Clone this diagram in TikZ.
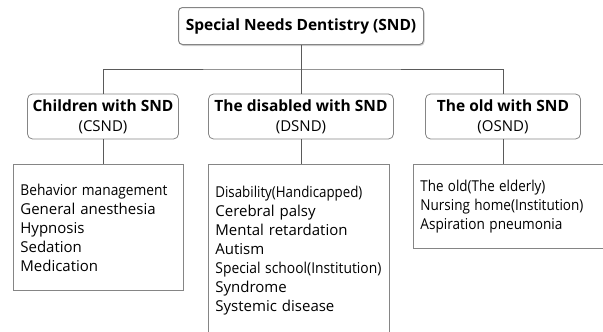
\documentclass[tikz,border=0pt]{standalone}
\usepackage{fontspec}
\setmainfont{Open Sans}
\usetikzlibrary{positioning, shadows}
\definecolor{boxline}{HTML}{858585}
\definecolor{linkline}{HTML}{5A5A5A}
\tikzstyle{root}=[draw=boxline,rounded corners=4pt,fill=white,line width=1pt,minimum width=245pt,minimum height=37pt,drop shadow={opacity=.35,shadow xshift=1pt,shadow yshift=-1.5pt},font=\fontsize{15.5}{18}\selectfont\bfseries]
\tikzstyle{group}=[draw=boxline,rounded corners=5pt,line width=.8pt,minimum height=45pt,align=center,font=\fontsize{15}{20}\selectfont]
\tikzstyle{list}=[draw=boxline,line width=.8pt,anchor=north west,inner xsep=7pt,align=left,font=\fontsize{15}{19}\selectfont]
\tikzstyle{link}=[draw=linkline,line width=.6pt]
% squeeze a line to the given width, height kept
\newcommand{\squeeze}[2]{\resizebox{#1}{\height}{#2}}

\begin{document}
\begin{tikzpicture}[x=1pt,y=-1pt]
\useasboundingbox (0,0) rectangle (603,332);
\clip (0,0) rectangle (603,332);
% top
\node[root] (snd) at (301,26) {Special Needs Dentistry (SND)};
% three groups
\node[group,minimum width=151pt] (csnd) at (103,116.5) {\textbf{\fontsize{15.5}{20}\selectfont Children with SND}\\(CSND)};
\node[group,minimum width=185pt] (dsnd) at (301,116.5) {\textbf{\fontsize{15.5}{20}\selectfont The disabled with SND}\\(DSND)};
\node[group,minimum width=155pt] (osnd) at (503,116.5) {\textbf{\fontsize{15.5}{20}\selectfont The old with SND}\\(OSND)};
% lists
\node[list,text width=156pt,minimum height=126pt] (clist) at (13,164)
  {\squeeze{147pt}{Behavior management}\\General anesthesia\\Hypnosis\\Sedation\\Medication};
\node[list,text width=167pt,minimum height=172pt] (dlist) at (208,164)
  {\squeeze{147pt}{Disability(Handicapped)}\\Cerebral palsy\\Mental retardation\\Autism\\\squeeze{166pt}{Special school(Institution)}\\Syndrome\\Systemic disease};
\node[list,text width=185pt,minimum height=84pt] (olist) at (413,164)
  {\squeeze{125pt}{The old(The elderly)}\\\squeeze{163pt}{Nursing home(Institution)}\\\squeeze{142pt}{Aspiration pneumonia}};
% connectors
\coordinate (bar) at (0,69);
\draw[link] (csnd.north) |- (snd.south |- bar) -| (osnd.north);
\draw[link] (snd.south) -- (dsnd.north);
\foreach \g/\l in {csnd/clist, dsnd/dlist, osnd/olist}
  \draw[link] (\g.south) -- (\g.south |- \l.north);
\end{tikzpicture}
\end{document}
